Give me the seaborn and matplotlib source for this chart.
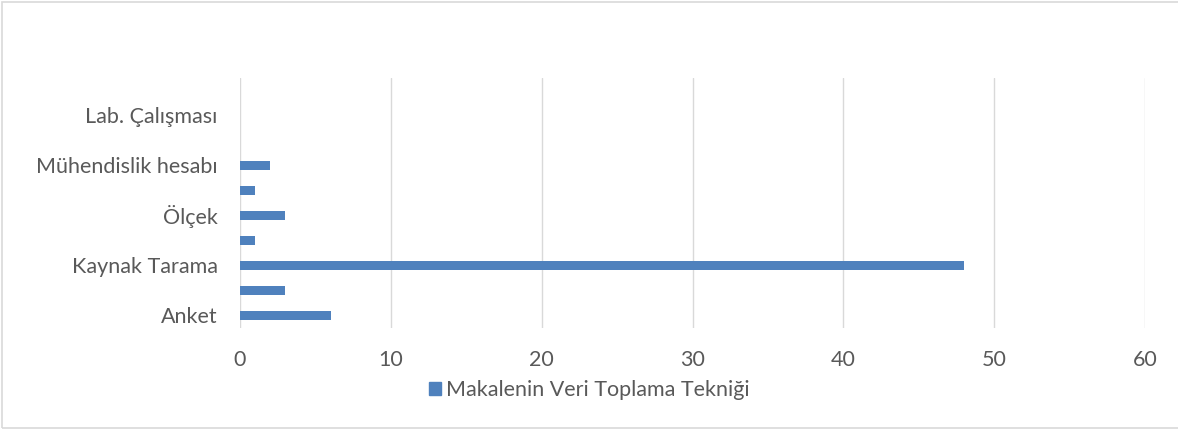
import pandas as pd
import matplotlib
matplotlib.use("Agg")
import matplotlib.pyplot as plt
import matplotlib.patches as mpatches
import seaborn as sns

# Data (bottom to top as drawn); every other label is hidden in the original
CATEGORIES = ["Anket", "cat2", "Kaynak Tarama", "cat4", "Ölçek", "cat6",
              "Mühendislik hesabı", "cat8", "Lab. Çalışması", "cat10"]
TICK_LABELS = ["Anket", "", "Kaynak Tarama", "", "Ölçek", "",
               "Mühendislik hesabı", "", "Lab. Çalışması", ""]
VALUES = [6, 3, 48, 1, 3, 1, 2, 0, 0, 0]
SERIES = "Makalenin Veri Toplama Tekniği"

BAR_COLOR = "#4F81BD"
TEXT_COLOR = "#595959"
GRID_COLOR = "#D9D9D9"

sns.set_style("white")
plt.rcParams["font.family"] = ["Lato", "DejaVu Sans"]

df = pd.DataFrame({"category": CATEGORIES, "value": VALUES})

fig = plt.figure(figsize=(11.78, 4.30), dpi=100)
ax = fig.add_axes([240 / 1178, 1 - 327.5 / 430, 905 / 1178, 250 / 430])

sns.barplot(data=df, x="value", y="category", order=CATEGORIES[::-1],
            color=BAR_COLOR, width=0.36, saturation=1, linewidth=0, ax=ax)

ax.set_xlim(0, 60)
ax.set_xticks(range(0, 61, 10))
ax.set_yticks(range(len(CATEGORIES)))
ax.set_yticklabels(TICK_LABELS[::-1])
ax.set_xlabel("")
ax.set_ylabel("")
ax.xaxis.grid(True, color=GRID_COLOR, linewidth=1)
ax.set_axisbelow(True)
for side in ["top", "right", "bottom", "left"]:
    ax.spines[side].set_visible(False)
ax.tick_params(axis="both", length=0, labelsize=15.5, colors=TEXT_COLOR)
ax.tick_params(axis="x", pad=16)
ax.tick_params(axis="y", pad=16)

# legend centered on the chart area
handle = mpatches.Patch(color=BAR_COLOR, label=SERIES)
leg = fig.legend(handles=[handle], loc="center", bbox_to_anchor=(0.5, 1 - 390 / 430),
                 frameon=False, fontsize=15.5, handlelength=0.6, handleheight=0.6,
                 handletextpad=0.2)
for t in leg.get_texts():
    t.set_color(TEXT_COLOR)

# chart area border
fig.patches.append(mpatches.Rectangle((2 / 1178, 2 / 430), 1.2, 426 / 430,
                                      transform=fig.transFigure, fill=False,
                                      edgecolor=GRID_COLOR, linewidth=1.2))

fig.savefig("out.png", dpi=100)
